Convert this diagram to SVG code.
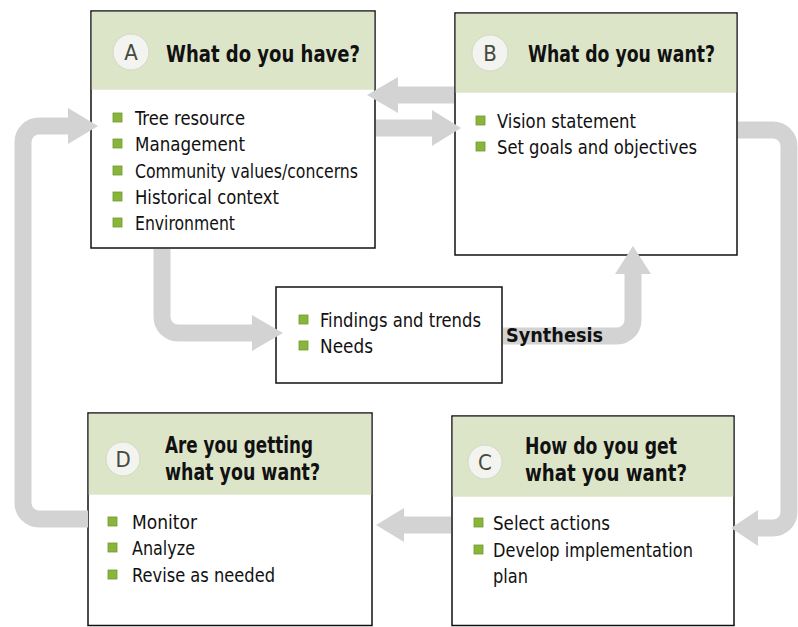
<svg xmlns="http://www.w3.org/2000/svg" width="798" height="627" viewBox="0 0 798 627">
<style>
.box{fill:#fff;stroke:#111;stroke-width:1.5}
.band{fill:#dde5c9}
.circ{fill:#f3f4ef;stroke:#d2d8c6;stroke-width:1}
.let{font-family:"Liberation Sans Narrow","Arial Narrow","DejaVu Sans Condensed",sans-serif;font-size:22px;fill:#454a40;text-anchor:middle}
.ttl{font-family:"Liberation Sans Narrow","Arial Narrow","DejaVu Sans Condensed",sans-serif;font-size:23px;font-weight:bold;fill:#111}
.itm{font-family:"Liberation Sans Narrow","Arial Narrow","DejaVu Sans Condensed",sans-serif;font-size:19px;fill:#111}
.lbl{font-family:"Liberation Sans Narrow","Arial Narrow","DejaVu Sans Condensed",sans-serif;font-size:20px;font-weight:bold;fill:#111}
.bul{fill:#8ab53c;stroke:#6f9a2c;stroke-width:0.8}
.shaft{fill:none;stroke:#d3d3d3;stroke-width:17}
.head{fill:#d3d3d3}
</style>
<rect width="798" height="627" fill="#fff"/>

<g id="nodeA">
<rect class="box" x="91" y="11" width="284" height="237"/>
<rect class="band" x="91.75" y="11.75" width="282.5" height="78"/>
<circle class="circ" cx="131" cy="52" r="18"/>
<text class="let" x="131" y="60">A</text>
<text class="ttl" x="166" y="62" textLength="194" lengthAdjust="spacingAndGlyphs">What do you have?</text>
<rect class="bul" x="113" y="113" width="9" height="9"/>
<text class="itm" x="135" y="125" textLength="110" lengthAdjust="spacingAndGlyphs">Tree resource</text>
<rect class="bul" x="113" y="139" width="9" height="9"/>
<text class="itm" x="135" y="151" textLength="110" lengthAdjust="spacingAndGlyphs">Management</text>
<rect class="bul" x="113" y="166" width="9" height="9"/>
<text class="itm" x="135" y="178" textLength="223" lengthAdjust="spacingAndGlyphs">Community values/concerns</text>
<rect class="bul" x="113" y="192" width="9" height="9"/>
<text class="itm" x="135" y="204" textLength="144" lengthAdjust="spacingAndGlyphs">Historical context</text>
<rect class="bul" x="113" y="218" width="9" height="9"/>
<text class="itm" x="135" y="230" textLength="100" lengthAdjust="spacingAndGlyphs">Environment</text>
</g>

<g id="nodeB">
<rect class="box" x="455" y="13" width="282" height="242"/>
<rect class="band" x="455.75" y="13.75" width="280.5" height="79"/>
<circle class="circ" cx="490" cy="53" r="18"/>
<text class="let" x="490" y="61">B</text>
<text class="ttl" x="528" y="62" textLength="187" lengthAdjust="spacingAndGlyphs">What do you want?</text>
<rect class="bul" x="476" y="116" width="9" height="9"/>
<text class="itm" x="497" y="128" textLength="139" lengthAdjust="spacingAndGlyphs">Vision statement</text>
<rect class="bul" x="476" y="142" width="9" height="9"/>
<text class="itm" x="497" y="154" textLength="200" lengthAdjust="spacingAndGlyphs">Set goals and objectives</text>
</g>

<g id="nodeFindings">
<rect class="box" x="276" y="287" width="226" height="96"/>
<rect class="bul" x="299" y="315" width="9" height="9"/>
<text class="itm" x="320" y="327" textLength="161" lengthAdjust="spacingAndGlyphs">Findings and trends</text>
<rect class="bul" x="299" y="341" width="9" height="9"/>
<text class="itm" x="320" y="353" textLength="53" lengthAdjust="spacingAndGlyphs">Needs</text>
</g>

<g id="nodeD">
<rect class="box" x="88" y="413" width="284" height="212.5"/>
<rect class="band" x="88.75" y="413.75" width="282.5" height="81"/>
<circle class="circ" cx="123" cy="459" r="17"/>
<text class="let" x="123" y="467">D</text>
<text class="ttl" x="165" y="453" textLength="148" lengthAdjust="spacingAndGlyphs">Are you getting</text>
<text class="ttl" x="165" y="480" textLength="155" lengthAdjust="spacingAndGlyphs">what you want?</text>
<rect class="bul" x="108" y="517" width="9" height="9"/>
<text class="itm" x="132" y="529" textLength="65" lengthAdjust="spacingAndGlyphs">Monitor</text>
<rect class="bul" x="108" y="543" width="9" height="9"/>
<text class="itm" x="132" y="555" textLength="63" lengthAdjust="spacingAndGlyphs">Analyze</text>
<rect class="bul" x="108" y="570" width="9" height="9"/>
<text class="itm" x="132" y="582" textLength="143" lengthAdjust="spacingAndGlyphs">Revise as needed</text>
</g>

<g id="nodeC">
<rect class="box" x="452" y="416" width="282" height="209.5"/>
<rect class="band" x="452.75" y="416.75" width="280.5" height="80"/>
<circle class="circ" cx="485" cy="462" r="17"/>
<text class="let" x="485" y="470">C</text>
<text class="ttl" x="525" y="454" textLength="152" lengthAdjust="spacingAndGlyphs">How do you get</text>
<text class="ttl" x="525" y="481" textLength="162" lengthAdjust="spacingAndGlyphs">what you want?</text>
<rect class="bul" x="474" y="518" width="9" height="9"/>
<text class="itm" x="493" y="530" textLength="117" lengthAdjust="spacingAndGlyphs">Select actions</text>
<rect class="bul" x="474" y="545" width="9" height="9"/>
<text class="itm" x="493" y="557" textLength="200" lengthAdjust="spacingAndGlyphs">Develop implementation</text>
<text class="itm" x="493" y="583" textLength="35" lengthAdjust="spacingAndGlyphs">plan</text>
</g>

<g id="connectors">
<path class="shaft" d="M454,95 H396"/>
<polygon class="head" points="398,77 367,95 398,113"/>
<path class="shaft" d="M376,128 H434"/>
<polygon class="head" points="432,110 461,128 432,146"/>
<path class="shaft" d="M88,519 H39 A16,16 0 0 1 23,503 V142 A16,16 0 0 1 39,126 H70"/>
<polygon class="head" points="68,108 98,126 68,144"/>
<path class="shaft" d="M162,249 V317 A16,16 0 0 0 178,333 H254"/>
<polygon class="head" points="252,315 283,333 252,351"/>
<path class="shaft" d="M503,336 H617 A16,16 0 0 0 633,320 V272"/>
<polygon class="head" points="615,274 633,246 651,274"/>
<text class="lbl" x="506" y="342" textLength="97" lengthAdjust="spacingAndGlyphs">Synthesis</text>
<path class="shaft" d="M738,130 H773 A16,16 0 0 1 789,146 V512 A16,16 0 0 1 773,528 H756"/>
<polygon class="head" points="758,510 731,528 758,546"/>
<path class="shaft" d="M451,525 H402"/>
<polygon class="head" points="404,508 376,525 404,542"/>
</g>
</svg>
